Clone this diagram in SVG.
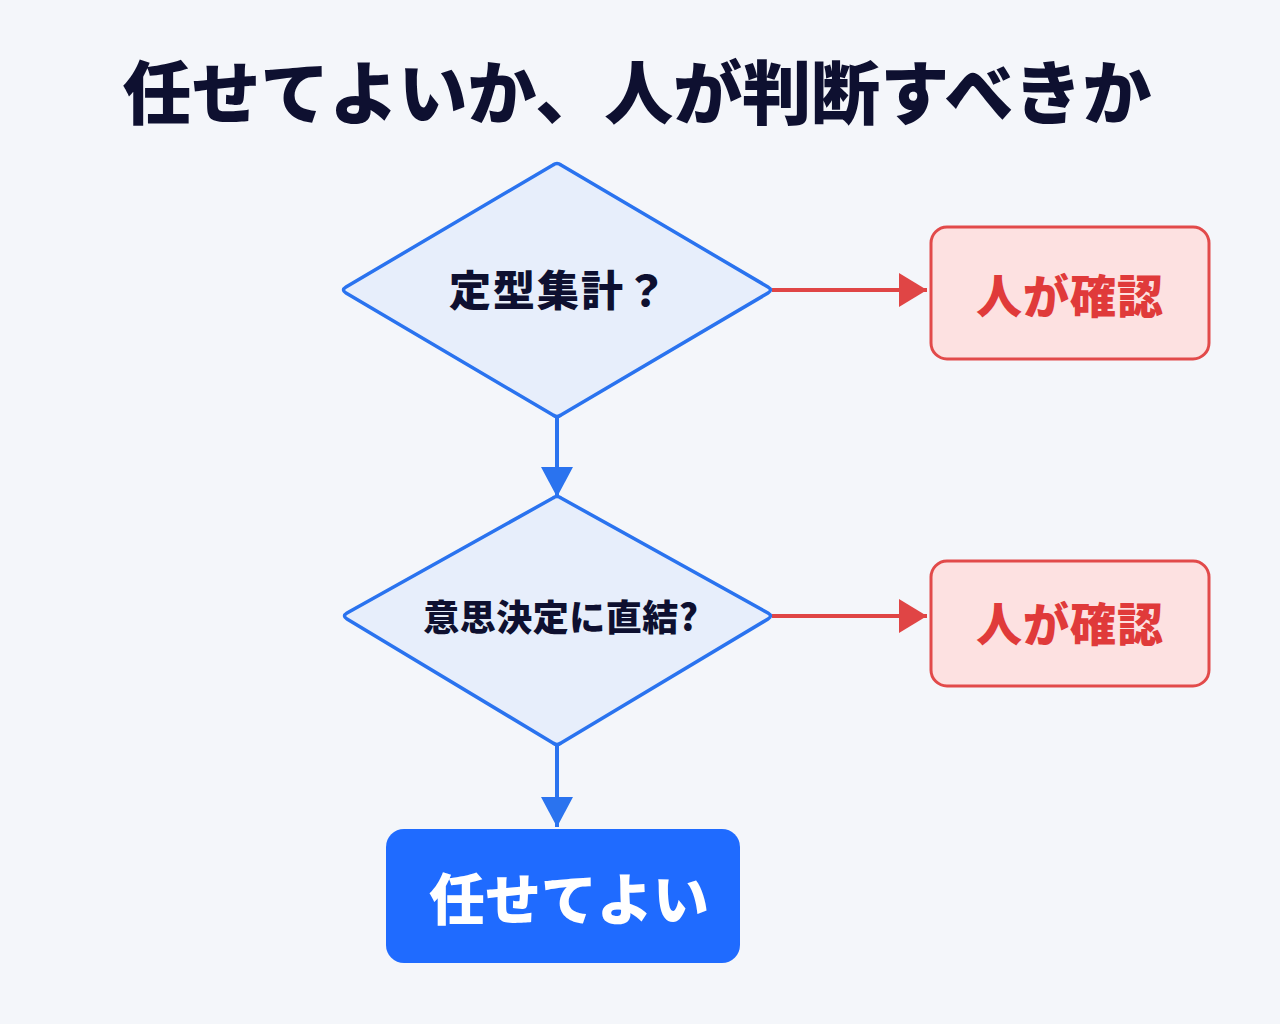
<svg xmlns="http://www.w3.org/2000/svg" width="1280" height="1024" viewBox="0 0 1280 1024">
<defs>
<style>
.t{font-family:"Noto Sans CJK JP","Noto Sans CJK SC",sans-serif;font-weight:900;text-anchor:middle;dominant-baseline:central}
.dia{fill:#e7eefb;stroke:#2a73ef;stroke-width:3.5;stroke-linejoin:round}
.red{fill:#fde1e1;stroke:#e24a4a;stroke-width:3}
.cb{stroke:#2a73ef;stroke-width:4;fill:none}
.cr{stroke:#e04545;stroke-width:4;fill:none}
</style>
<marker id="ar" viewBox="0 0 10 10" refX="10" refY="5" markerWidth="28" markerHeight="34" orient="auto" markerUnits="userSpaceOnUse" preserveAspectRatio="none"><path d="M0,0 L10,5 L0,10 Z" fill="#e04545"/></marker>
<marker id="ab2" viewBox="0 0 10 10" refX="10" refY="5" markerWidth="30" markerHeight="32" orient="auto" markerUnits="userSpaceOnUse" preserveAspectRatio="none"><path d="M0,0 L10,5 L0,10 Z" fill="#2a73ef"/></marker>
</defs>
<rect width="1280" height="1024" fill="#f4f6fa"/>
<text class="t" x="637" y="89" font-size="69" fill="#0e1030">任せてよいか、人が判断すべきか</text>
<g id="connectors">
<line class="cb" x1="557" y1="417" x2="557" y2="497" marker-end="url(#ab2)"/>
<line class="cb" x1="557" y1="745" x2="557" y2="827" marker-end="url(#ab2)"/>
<line class="cr" x1="772" y1="290" x2="927" y2="290" marker-end="url(#ar)"/>
<line class="cr" x1="772" y1="616" x2="927" y2="616" marker-end="url(#ar)"/>
</g>
<g id="q1">
<path class="dia" d="M553,165 Q557,162 561,165 L768,287 Q773,290 768,293 L561,415 Q557,418 553,415 L346,293 Q341,290 346,287 Z"/>
<text class="t" x="559" y="287" font-size="42" letter-spacing="2" fill="#0e1030">定型集計？</text>
</g>
<g id="q2">
<path class="dia" d="M553,498 Q557,495 561,498 L768,613 Q773,616 768,619 L561,743 Q557,746 553,743 L347,619 Q342,616 347,613 Z"/>
<text class="t" x="561" y="615" font-size="36" letter-spacing="0.5" fill="#0e1030">意思決定に直結?</text>
</g>
<g id="human1">
<rect class="red" x="931" y="227" width="278" height="132" rx="16"/>
<text class="t" x="1070" y="293" font-size="46" letter-spacing="1" fill="#e03a3a">人が確認</text>
</g>
<g id="human2">
<rect class="red" x="931" y="561" width="278" height="125" rx="16"/>
<text class="t" x="1070" y="621" font-size="46" letter-spacing="1" fill="#e03a3a">人が確認</text>
</g>
<g id="ok">
<rect x="386" y="829" width="354" height="134" rx="18" fill="#1f6bff"/>
<text class="t" x="569" y="895" font-size="56" fill="#ffffff">任せてよい</text>
</g>
</svg>
